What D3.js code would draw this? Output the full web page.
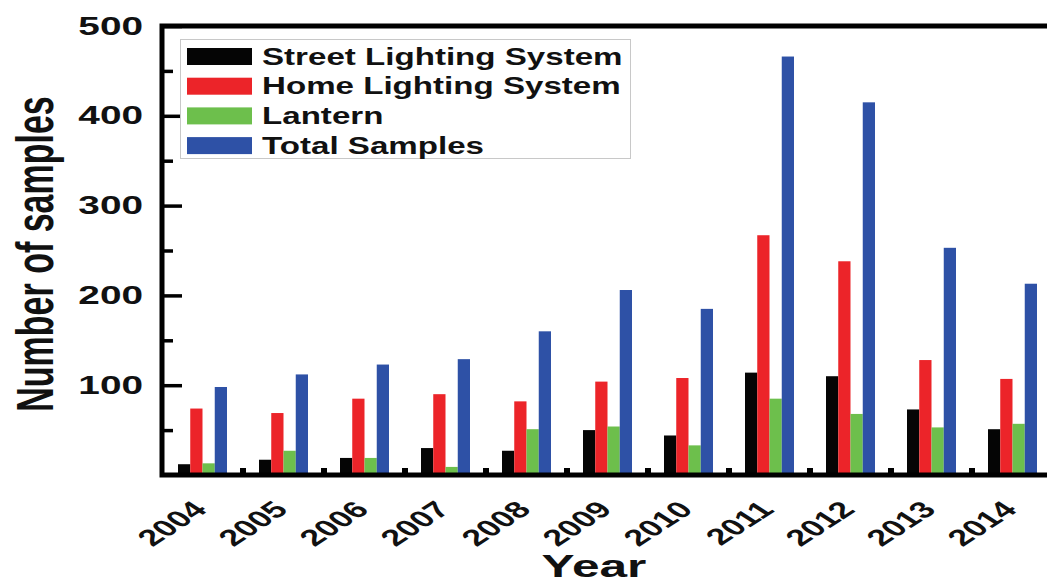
<!DOCTYPE html>
<html>
<head>
<meta charset="utf-8">
<script src="https://cdnjs.cloudflare.com/ajax/libs/d3/7.8.5/d3.min.js"></script>
<style>
  body { margin: 0; background: #fff; }
  svg { display: block; font-family: "Liberation Sans", Arial, sans-serif; font-weight: bold; }
</style>
</head>
<body>
<svg id="chart" width="1047" height="585"></svg>
<script>
// data
var years = ['2004', '2005', '2006', '2007', '2008', '2009', '2010', '2011', '2012', '2013', '2014'];
var seriesNames = ['Street Lighting System', 'Home Lighting System', 'Lantern', 'Total Samples'];
var streetLighting = [12, 17, 19, 30, 27, 50, 44, 114, 110, 73, 51];
var homeLighting = [74, 69, 85, 90, 82, 104, 108, 267, 238, 128, 107];
var lantern = [13, 27, 19, 9, 51, 54, 33, 85, 68, 53, 57];
var totalSamples = [98, 112, 123, 129, 160, 206, 185, 466, 415, 253, 213];
var yTicks = [100, 200, 300, 400, 500];
var yMinorTicks = [50, 150, 250, 350, 450];

var colors = ['#050505', '#ec2429', '#6dbf4c', '#2e51a6'];
var stretch = 1.55; // the original figure is stretched sideways

var svg = d3.select('#chart');

// scales
var x0 = d3.scaleBand()
    .domain(years)
    .range([162, 1053])
    .paddingInner(32 / 81)
    .paddingOuter(16 / 81);
var x1 = d3.scaleBand()
    .domain(seriesNames)
    .range([0, x0.bandwidth()]);
var y = d3.scaleLinear()
    .domain([0, 500])
    .range([475, 26]);

var table = years.map(function(yr, i) {
    return {
        year: yr,
        values: [streetLighting[i], homeLighting[i], lantern[i], totalSamples[i]]
    };
});

/*
 * bars
 */
var groups = svg.append('g').selectAll('g')
    .data(table)
    .join('g')
    .attr('transform', function(d) { return 'translate(' + x0(d.year) + ',0)'; });

groups.selectAll('rect')
    .data(function(d) {
        return d.values.map(function(v, k) { return {name: seriesNames[k], value: v, k: k}; });
    })
    .join('rect')
    .attr('x', function(d) { return x1(d.name); })
    .attr('y', function(d) { return y(d.value); })
    .attr('width', x1.bandwidth())
    .attr('height', function(d) { return y(0) - y(d.value); })
    .attr('fill', function(d) { return colors[d.k]; });

// small ticks on the bottom axis between year groups
var gap = x0.step() - x0.bandwidth();
svg.append('g').selectAll('line')
    .data(years.slice(0, -1))
    .join('line')
    .attr('x1', function(d) { return x0(d) + x0.bandwidth() + gap / 2; })
    .attr('x2', function(d) { return x0(d) + x0.bandwidth() + gap / 2; })
    .attr('y1', y(0))
    .attr('y2', y(0) - 7)
    .attr('stroke', '#000')
    .attr('stroke-width', 6);

/*
 * frame and y axis
 */
svg.append('rect')
    .attr('x', 162)
    .attr('y', y(500))
    .attr('width', 1053 - 162)
    .attr('height', y(0) - y(500))
    .attr('fill', 'none')
    .attr('stroke', '#000')
    .attr('stroke-width', 5);

var yAxis = svg.append('g')
    .attr('transform', 'translate(162,0)')
    .call(d3.axisLeft(y).tickValues(yTicks).tickSize(-20).tickPadding(19));
yAxis.select('.domain').remove();
yAxis.selectAll('line').attr('stroke-width', 3.5);
yAxis.selectAll('text')
    .attr('x', -19 / stretch)
    .attr('transform', 'scale(' + stretch + ',1)')
    .attr('font-size', 25)
    .attr('font-family', '"Liberation Sans", Arial, sans-serif')
    .attr('font-weight', 'bold')
    .attr('fill', '#111');

var yMinor = svg.append('g')
    .attr('transform', 'translate(162,0)')
    .call(d3.axisLeft(y).tickValues(yMinorTicks).tickSize(-11).tickFormat(''));
yMinor.select('.domain').remove();
yMinor.selectAll('line').attr('stroke-width', 3.5);

/*
 * x axis labels
 */
var xAxis = svg.append('g')
    .attr('transform', 'translate(0,' + y(0) + ')')
    .call(d3.axisBottom(x0).tickSize(0));
xAxis.select('.domain').remove();
xAxis.selectAll('text')
    .attr('x', 0)
    .attr('y', 0)
    .attr('dy', 0)
    .attr('text-anchor', 'end')
    .attr('transform', 'translate(6,36) scale(' + stretch + ',1) rotate(-45)')
    .attr('font-size', 23)
    .attr('font-family', '"Liberation Sans", Arial, sans-serif')
    .attr('font-weight', 'bold')
    .attr('fill', '#111');

// axis titles
svg.append('text')
    .attr('transform', 'translate(594,577) scale(' + stretch + ',1)')
    .attr('text-anchor', 'middle')
    .attr('font-size', 32)
    .attr('fill', '#111')
    .text('Year');

svg.append('text')
    .attr('transform', 'translate(53,254) scale(' + stretch + ',1) rotate(-90)')
    .attr('text-anchor', 'middle')
    .attr('font-size', 34)
    .attr('fill', '#111')
    .text('Number of samples');

/*
 * legend
 */
var legend = svg.append('g');
legend.append('rect')
    .attr('x', 180.5)
    .attr('y', 39.5)
    .attr('width', 450)
    .attr('height', 119)
    .attr('fill', '#fff')
    .attr('stroke', '#c8c8c8')
    .attr('stroke-width', 1);

var items = legend.selectAll('g')
    .data(seriesNames)
    .join('g')
    .attr('transform', function(d, i) { return 'translate(0,' + (56.5 + i * 29.7) + ')'; });
items.append('rect')
    .attr('x', 187)
    .attr('y', -8.5)
    .attr('width', 65)
    .attr('height', 17)
    .attr('fill', function(d, i) { return colors[i]; });
items.append('text')
    .attr('transform', 'translate(262,8) scale(1.44,1)')
    .attr('font-size', 23)
    .attr('fill', '#111')
    .text(function(d) { return d; });
</script>
</body>
</html>
